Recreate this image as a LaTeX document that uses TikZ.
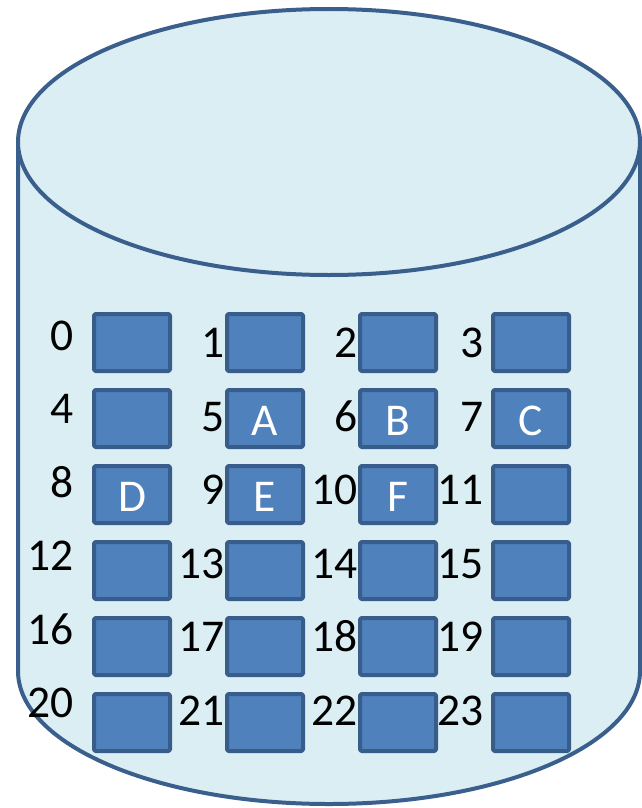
\documentclass[tikz,border=0pt]{standalone}
\usepackage{fontspec}
\setmainfont{Carlito}
\usepackage{tikz}
\usetikzlibrary{positioning,calc}
\definecolor{diskfill}{HTML}{DAEEF3}
\definecolor{diskline}{HTML}{3A5F8D}
\definecolor{blockfill}{HTML}{4F81BD}
\definecolor{blockline}{HTML}{385D8A}

\begin{document}
\begin{tikzpicture}[x=1pt, y=-1pt, line join=round,
    disk/.style={draw=diskline, fill=diskfill, line width=4pt},
    block/.style={draw=blockline, fill=blockfill, line width=4pt,
                  rounded corners=1.5pt, minimum width=76pt,
                  minimum height=57pt, inner sep=0pt},
    num/.style={font=\fontsize{45.5}{45.5}\selectfont, anchor=base east, inner sep=0pt},
    tag/.style={font=\fontsize{45.5}{45.5}\selectfont, text=white, anchor=base, inner sep=0pt}]
  \useasboundingbox (0,0) rectangle (642,808);

  % disk body and lid
  \draw[disk] (18,142) -- (18,671)
      arc[start angle=180, end angle=0, x radius=311, y radius=133] -- (640,142);
  \draw[disk] (329,142) ellipse[x radius=311, y radius=133];

  % blocks with their numbers
  \foreach \i in {0,...,23}{
    \pgfmathtruncatemacro\col{mod(\i,4)}
    \pgfmathtruncatemacro\row{div(\i,4)}
    \pgfmathsetmacro\xr{{73.5,224.5,357.5,483.5}[\col]}
    \pgfmathsetmacro\yb{(\col==0 ? 350 : 357.5)+73.5*\row}
    \node[block] (b\i) at (132+133*\col, 342.5+76*\row) {};
    \node[num] (n\i) at (\xr,\yb) {\i};
  }

  % stored items
  \node[tag] (A) at ($(b5.center)+(0,16.5)$) {A};
  \node[tag] (B) at ($(b6.center)+(0,16.5)$) {B};
  \node[tag] (C) at ($(b7.center)+(0,16.5)$) {C};
  \node[tag] (D) at ($(b8.center)+(0,16.5)$) {D};
  \node[tag] (E) at ($(b9.center)+(0,16.5)$) {E};
  \node[tag] (F) at ($(b10.center)+(0,16.5)$) {F};
\end{tikzpicture}
\end{document}
